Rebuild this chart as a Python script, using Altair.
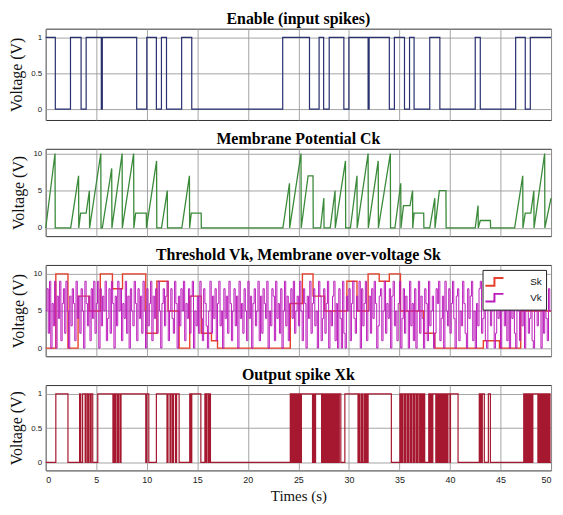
import altair as alt
import pandas as pd

# ---------------- data ----------------
# Enable (input spikes): step signal, value holds from each time on
enable_t = [0, 0.95, 2.45, 3.5, 4.0, 5.5, 5.6, 9.0, 10.0, 10.95, 11.45, 11.95, 13.45, 14.45,
            23.45, 26.1, 27.05, 27.5, 28.05, 29.5, 30.0, 31.9, 32.0, 34.0, 34.5, 35.5, 36.0,
            36.45, 38.0, 39.0, 42.5, 43.0, 46.5, 47.45, 47.95, 50]
enable_v = [1, 0, 1, 0, 1, 0, 1, 0, 1, 0, 1, 0, 1, 0,
            1, 0, 1, 0, 1, 0, 1, 0, 1, 0, 1, 0, 1,
            0, 1, 0, 1, 0, 1, 0, 1, 1]

# Membrane potential Ck: ramp / reset points
ck_t = [0.00, 0.92, 0.94, 2.47, 3.25, 3.27, 3.45, 4.00, 4.32, 4.34, 5.45, 5.47, 5.60, 6.53, 6.55,
        7.56, 7.58, 8.70, 8.72, 8.90, 9.95, 9.97, 10.97, 10.99, 11.46, 12.03, 12.05, 13.47,
        14.22, 14.24, 14.40, 15.38, 15.40, 23.47, 24.12, 24.14, 25.26, 25.28, 25.96, 26.45,
        26.47, 27.20, 27.52, 27.54, 28.15, 28.63, 28.65, 29.66, 29.68, 30.15, 30.80, 30.82,
        31.90, 31.92, 32.90, 32.92, 34.10, 34.12, 34.55, 35.13, 35.15, 35.40, 36.05, 36.30,
        36.32, 36.45, 37.40, 37.42, 38.00, 38.50, 38.52, 38.95, 39.60, 39.62, 42.50, 42.78,
        42.80, 43.00, 44.00, 44.02, 46.40, 47.20, 47.22, 47.45, 48.00, 48.30, 48.32, 49.37,
        49.39, 50.00]
ck_v = [0, 10, 0, 0, 7, 0, 2, 2, 5, 0, 10, 0, 0, 8, 0,
        10, 0, 10, 0, 2, 2, 0, 9, 0, 0, 5, 0, 0,
        7, 0, 2, 2, 0, 0, 6, 0, 10, 0, 7, 7,
        0, 0, 4, 0, 0, 5, 0, 9, 0, 0, 7, 0,
        10, 0, 9, 0, 10, 0, 0, 6, 0, 3, 3, 5,
        0, 2, 2, 0, 0, 4, 0, 5, 5, 0, 0, 3,
        0, 1, 1, 0, 0, 7, 0, 2, 2, 5, 0, 10,
        0, 4]

# Membrane over-voltage Sk: step signal
sk_t = [0, 1.0, 2.2, 3.2, 4.3, 5.4, 6.6, 7.6, 9.9, 11.0, 12.1, 13.2, 14.25, 15.4, 16.4, 17.0,
        24.2, 25.4, 26.45, 27.6, 29.8, 30.8, 31.9, 33.0, 34.0, 35.1, 37.4, 38.5, 43.3, 44.9,
        47.0, 50]
sk_v = [0, 10, 0, 7, 5, 10, 8, 10, 2, 9, 5, 0, 7, 2, 1, 0,
        6, 10, 7, 5, 9, 5, 10, 9, 10, 5, 2, 0, 1, 0,
        5, 5]

# Threshold Vk: sampled every 0.125 s
vk_dt = 0.125
vk_v = [
    5, 8, 2, 9, 0, 6, 3, 9, 0, 7, 4, 9, 1, 6, 8, 2, 9, 5, 0, 7, 3, 8, 6, 1, 9, 4, 7, 2, 8, 5, 0, 9, 6, 3, 7, 1, 8, 4, 9, 2,
    6, 9, 0, 8, 3, 7, 5, 9, 1, 4, 8, 2, 9, 6, 0, 7, 3, 9, 5, 8, 1, 6, 4, 9, 2, 7, 0, 8, 5, 3, 9, 6, 1, 8, 4, 7, 2, 9, 5, 0,
    8, 3, 6, 9, 1, 7, 4, 8, 2, 9, 5, 0, 6, 8, 3, 7, 9, 1, 5, 8, 4, 2, 9, 6, 0, 7, 3, 8, 5, 9, 1, 6, 4, 8, 2, 7, 9, 0, 5, 3,
    7, 2, 9, 4, 1, 8, 6, 3, 0, 5, 9, 2, 7, 4, 8, 1, 6, 9, 3, 5, 0, 8, 4, 7, 2, 9, 6, 1, 5, 8, 3, 7, 0, 9, 4, 6, 2, 8, 5, 1,
    9, 4, 7, 0, 6, 8, 3, 5, 9, 1, 7, 2, 8, 6, 4, 9, 0, 5, 3, 8, 7, 1, 9, 4, 6, 2, 8, 0, 5, 9, 3, 7, 1, 6, 8, 4, 9, 2, 5, 7,
    3, 9, 5, 1, 8, 6, 0, 7, 4, 9, 2, 6, 8, 3, 5, 0, 9, 7, 1, 4, 8, 2, 6, 9, 0, 5, 3, 7, 9, 1, 6, 0, 8, 4, 0, 9, 2, 0, 7, 5,
    8, 1, 6, 9, 4, 2, 7, 5, 9, 0, 8, 3, 6, 9, 1, 5, 7, 2, 8, 4, 9, 6, 0, 3, 7, 8, 1, 5, 9, 2, 6, 4, 8, 0, 7, 9, 3, 5, 1, 6,
    9, 0, 4, 8, 2, 7, 5, 0, 9, 3, 6, 1, 8, 0, 5, 9, 2, 7, 4, 0, 8, 6, 1, 9, 3, 5, 7, 0, 2, 8, 6, 9, 1, 4, 7, 0, 9, 5, 3, 8,
    2, 6, 9, 4, 0, 7, 8, 1, 5, 3, 9, 6, 2, 0, 8, 4, 7, 9, 1, 5, 0, 6, 3, 8, 9, 2, 4, 7, 1, 0, 6, 9, 3, 5, 8, 0, 2, 7, 4, 9,
    0, 5, 8, 3, 9, 1, 7, 0, 6, 4, 9, 2, 0, 8, 5, 1, 7, 3, 9, 0, 6, 8, 2, 4, 9, 1, 0, 7, 5, 3, 8, 6, 0, 9, 2, 7, 4, 1, 8, 5,
]

# Output spike Xk: intervals where the output is high
xk_on = [1.0, 3.35, 3.65, 4.0, 4.25, 4.5, 5.15, 6.75, 6.95, 7.2, 7.45, 10.0, 10.95, 12.1, 12.4,
         12.65, 12.95, 14.25, 14.45, 15.75, 15.95, 16.2,
         24.2, 24.35, 24.5, 24.65, 24.8, 24.95, 25.1, 25.3, 26.5, 26.7,
         27.4, 27.6, 27.8, 27.9, 28.05, 28.15, 28.3, 28.4, 28.55, 28.65, 28.8, 28.9, 29.05,
         29.6, 31.0, 31.25, 31.5, 31.7, 31.9,
         35.05, 35.2, 35.35, 35.55, 35.65, 35.85, 35.95, 36.15, 36.25, 36.45, 36.55, 36.75,
         36.85, 37.05, 37.2, 37.4, 37.9, 38.1, 38.3, 38.7, 38.9, 39.1, 39.3, 39.5, 39.7,
         39.8, 40.05, 42.9, 43.05, 43.2, 43.8,
         47.3, 47.45, 47.6, 47.7, 47.85, 47.95, 48.1, 48.2, 48.8, 49.0, 49.2, 49.4, 49.6, 49.8]
xk_off = [2.2, 3.47, 3.9, 4.15, 4.4, 4.65, 6.65, 6.85, 7.1, 7.35, 9.9, 10.2, 12.0, 12.3, 12.55,
          12.85, 13.2, 14.35, 15.35, 15.85, 16.1, 16.3,
          24.3, 24.45, 24.6, 24.75, 24.9, 25.05, 25.2, 26.4, 26.6, 27.3,
          27.5, 27.7, 27.85, 28.0, 28.1, 28.25, 28.35, 28.5, 28.6, 28.75, 28.85, 29.0, 29.2,
          30.9, 31.1, 31.35, 31.6, 31.8, 34.2,
          35.15, 35.3, 35.5, 35.6, 35.8, 35.9, 36.1, 36.2, 36.4, 36.5, 36.7, 36.8,
          37.0, 37.1, 37.3, 37.5, 38.0, 38.2, 38.6, 38.8, 39.0, 39.2, 39.4, 39.6, 39.75,
          40.0, 40.8, 43.0, 43.15, 43.4, 44.0,
          47.4, 47.55, 47.65, 47.8, 47.9, 48.05, 48.15, 48.7, 48.9, 49.1, 49.3, 49.5, 49.7, 49.9]

x_ticks = [0, 5, 10, 15, 20, 25, 30, 35, 40, 45, 50]

# ---------------- tables ----------------
enable_df = pd.DataFrame({"t": enable_t, "v": enable_v})
ck_df = pd.DataFrame({"t": ck_t, "v": ck_v})
sk_df = pd.DataFrame({"t": sk_t, "v": sk_v, "s": "Sk"})
vk_times = [i * vk_dt for i in range(len(vk_v))] + [50.0]
vk_df = pd.DataFrame({"t": vk_times, "v": vk_v + [vk_v[-1]], "s": "Vk"})
xk_t, xk_v = [0.0], [0]
for a, b in zip(xk_on, xk_off):
    xk_t += [a, b]
    xk_v += [1, 0]
xk_t.append(50.0)
xk_v.append(0)
xk_df = pd.DataFrame({"t": xk_t, "v": xk_v})

SERIF = "Liberation Serif"
SANS = "Liberation Sans"
W = 509


def x_enc(show):
    if show:
        axis = alt.Axis(values=x_ticks, ticks=False, domain=False, labelPadding=5,
                        labelFontSize=9, labelFlush=True, titleFont=SERIF,
                        titleFontSize=15, titleFontWeight="normal", titlePadding=4,
                        titleColor="#111")
        return alt.X("t:Q", title="Times (s)",
                     scale=alt.Scale(domain=[0, 50], nice=False, zero=False), axis=axis)
    axis = alt.Axis(values=x_ticks, labels=False, ticks=False, domain=False)
    return alt.X("t:Q", title=None,
                 scale=alt.Scale(domain=[0, 50], nice=False, zero=False), axis=axis)


def y_enc(lo, hi, vals):
    axis = alt.Axis(values=vals, format=".1~f", ticks=False, domain=False, labelPadding=4,
                    titleFont=SERIF, titleFontSize=16, titleFontWeight="normal",
                    titlePadding=6, titleColor="#111")
    return alt.Y("v:Q", title="Voltage (V)",
                 scale=alt.Scale(domain=[lo, hi], nice=False, zero=False), axis=axis)


p1 = alt.Chart(enable_df).mark_line(interpolate="step-after", color="#28306f",
                                    strokeWidth=1.2).encode(
    x=x_enc(False), y=y_enc(-0.15, 1.12, [0, 0.5, 1])
).properties(width=W, height=92, title="Enable (input spikes)")

p2 = alt.Chart(ck_df).mark_line(color="#3a8a3a", strokeWidth=1.3).encode(
    x=x_enc(False), y=y_enc(-1.1, 10.63, [0, 5, 10])
).properties(width=W, height=88, title="Membrane Potential Ck")

color = alt.Color("s:N", scale=alt.Scale(domain=["Sk", "Vk"], range=["#e8412b", "#bb1cbb"]),
                  legend=alt.Legend(orient="none", legendX=440, legendY=243, title=None,
                                    symbolType="M-1.3,0.55L0,0.55L0,-0.55L1.3,-0.55",
                                    symbolSize=196, symbolStrokeWidth=2,
                                    symbolFillColor="transparent",
                                    labelFont=SANS, labelFontSize=10, labelColor="#111",
                                    labelOffset=28, padding=4, rowPadding=0,
                                    strokeColor="#222", fillColor="white"))
sk_line = alt.Chart(sk_df).mark_line(interpolate="step-after", strokeWidth=1.4).encode(
    x=x_enc(False), y=y_enc(-1.1, 11.2, [0, 5, 10]), color=color)
vk_line = alt.Chart(vk_df).mark_line(interpolate="step-after", strokeWidth=1.0).encode(
    x=x_enc(False), y=y_enc(-1.1, 11.2, [0, 5, 10]), color=color)
p3 = alt.layer(sk_line, vk_line).properties(
    width=W, height=92, title="Threshold Vk, Membrane over-voltage Sk")

p4 = alt.Chart(xk_df).mark_line(interpolate="step-after", color="#a5182f",
                                strokeWidth=1.2).encode(
    x=x_enc(True), y=y_enc(-0.117, 1.13, [0, 0.5, 1])
).properties(width=W, height=86, title="Output spike Xk")

chart = alt.vconcat(p1, p2, p3, p4, spacing=9).properties(
    padding=0
).configure_view(
    stroke="#333", strokeWidth=1
).configure_axis(
    gridColor="#9a9a9a", gridWidth=0.9, labelColor="#222", labelFont=SANS, labelFontSize=8
).configure_title(
    font=SERIF, fontSize=16, fontWeight="bold", color="#000", offset=2, anchor="middle"
)

chart.save("out.html", embed_options={"renderer": "svg", "actions": False})
